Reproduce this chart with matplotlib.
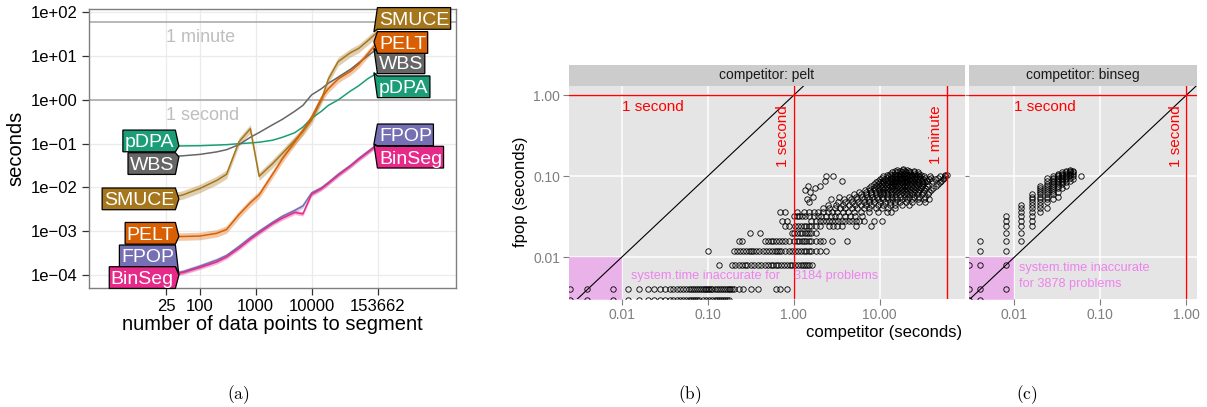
import matplotlib
matplotlib.use("Agg")
import matplotlib.pyplot as plt
from matplotlib.patches import Polygon
from matplotlib.transforms import IdentityTransform
from matplotlib.ticker import FixedLocator, FixedFormatter, NullLocator

plt.rcParams['font.family'] = ['Liberation Sans', 'DejaVu Sans']
plt.rcParams['savefig.dpi'] = 100

W, H = 1207, 407

# ---------------- (a) seconds vs. number of data points ----------------
n_points = [25, 50, 100, 200, 300, 500, 800, 1150, 2000, 3000, 5000, 7000,
            10000, 15000, 20000, 30000, 50000, 70000, 100000, 153662]
pdpa_sec = [0.088, 0.089, 0.09, 0.093, 0.095, 0.1, 0.104, 0.108, 0.12, 0.14,
            0.178, 0.24, 0.38, 0.55, 0.75, 1.0, 1.6, 2.1, 3.0, 4.2]
wbs_sec = [0.05, 0.053, 0.057, 0.065, 0.073, 0.095, 0.14, 0.18, 0.27, 0.36,
           0.55, 0.75, 1.3, 1.8, 2.4, 3.3, 5.0, 7.0, 10, 15]
smuce_sec = [0.0055, 0.0068, 0.0095, 0.0145, 0.02, 0.11, 0.22, 0.018, 0.035, 0.06,
             0.12, 0.19, 0.35, 1.0, 3.0, 7.5, 12, 15, 22, 36]
pelt_sec = [0.00076, 0.00076, 0.00078, 0.0009, 0.0011, 0.0024, 0.0045, 0.0068, 0.02, 0.045,
            0.11, 0.2, 0.4, 1.1, 1.8, 3.0, 4.5, 6.5, 11, 21]
fpop_sec = [0.0001, 0.00012, 0.00016, 0.00022, 0.00028, 0.00045, 0.00072, 0.001, 0.0016, 0.0022,
            0.003, 0.0038, 0.0075, 0.0098, 0.013, 0.02, 0.032, 0.046, 0.065, 0.098]
binseg_sec = [0.0001, 0.000115, 0.00015, 0.0002, 0.00026, 0.00041, 0.00066, 0.00092, 0.0015, 0.002,
              0.0027, 0.0025, 0.007, 0.0094, 0.0125, 0.019, 0.031, 0.044, 0.062, 0.096]

algo_names = ["pDPA", "WBS", "SMUCE", "PELT", "FPOP", "BinSeg"]
algo_secs = [pdpa_sec, wbs_sec, smuce_sec, pelt_sec, fpop_sec, binseg_sec]
algo_colors = ["#1B9E77", "#666666", "#A6761D", "#D95F02", "#7570B3", "#E7298A"]
band_factor = [1.0, 1.0, 1.25, 1.22, 1.12, 1.12]
# vertical shift of each label body from its pointer (pixels, up positive)
left_shift = [5.2, -6.7, 0.0, 3.2, 19.2, -2.5]
right_shift = [-14.2, -14.4, 13.3, -0.5, 9.2, -12.7]

size_ticks = [25, 100, 1000, 10000, 153662]
sec_ticks = [1e-4, 1e-3, 1e-2, 1e-1, 1e0, 1e1, 1e2]
sec_labels = ["1e\u221204", "1e\u221203", "1e\u221202", "1e\u221201", "1e+00", "1e+01", "1e+02"]

# ---------------- (b), (c) fpop vs competitor ----------------
# pelt: rows of competitor times for each fpop time
pelt_fpop = [0.003, 0.004, 0.008, 0.012, 0.016, 0.02, 0.024, 0.028, 0.032, 0.036,
             0.04, 0.044, 0.048, 0.052, 0.056, 0.06, 0.064, 0.068, 0.072, 0.076,
             0.08, 0.084, 0.088, 0.092, 0.096, 0.1, 0.104, 0.108, 0.112, 0.116,
             0.12, 0.124]
pelt_comp = [
    [0.0025, 0.004, 0.008, 0.012, 0.016, 0.02, 0.024, 0.028, 0.032, 0.036, 0.04, 0.044,
     0.048, 0.052, 0.056, 0.06, 0.064, 0.068, 0.072, 0.076, 0.08, 0.088, 0.096, 0.104,
     0.112, 0.12, 0.128, 0.136, 0.144, 0.152, 0.16, 0.168, 0.176],
    [0.0025, 0.004, 0.008, 0.012, 0.016, 0.02, 0.024, 0.028, 0.032, 0.036, 0.04, 0.044,
     0.048, 0.052, 0.056, 0.06, 0.064, 0.068, 0.072, 0.076, 0.08, 0.084, 0.088, 0.092,
     0.096, 0.1, 0.104, 0.108, 0.112, 0.12, 0.128, 0.136, 0.144, 0.152, 0.16, 0.168,
     0.176, 0.184, 0.192, 0.2, 0.23, 0.26, 0.32, 0.38, 0.62, 0.7, 0.84],
    [0.135, 0.19, 0.21, 0.23, 0.25, 0.27, 0.29, 0.32, 0.35, 0.38, 0.42, 0.46, 0.5, 0.54,
     0.58, 0.62, 0.66, 0.72, 0.78, 0.84, 0.9, 0.96, 1.04, 1.12, 1.2, 1.28, 1.36, 1.44,
     1.52, 1.62],
    [0.1, 0.2, 0.22, 0.24, 0.26, 0.28, 0.3, 0.32, 0.34, 0.36, 0.4, 0.44, 0.48, 0.52, 0.56,
     0.6, 0.64, 0.68, 0.72, 0.8, 0.88, 0.96, 1.04, 1.12, 1.2, 1.3, 1.4, 1.5, 1.6, 1.8,
     2.0, 2.4],
    [0.23, 0.25, 0.46, 0.5, 0.54, 0.58, 0.62, 0.68, 0.74, 0.8, 0.88, 1.0, 1.08, 1.16,
     1.24, 1.32, 1.4, 1.5, 1.6, 1.8, 2.0, 2.2, 2.8, 4.2],
    [0.31, 0.41, 0.95, 1.02, 1.1, 1.18, 1.26, 1.34, 1.42, 1.5, 1.6, 1.8],
    [0.8, 0.88, 1.04, 1.12, 1.2, 1.3, 1.4, 1.5, 1.6, 1.8, 2.0, 2.6, 2.9, 3.2, 3.6, 5.3, 8.0],
    [0.73, 0.83, 1.6, 1.8, 2.0, 2.2, 2.4, 2.6, 2.8, 3.0, 3.3, 3.6, 4.0, 4.4, 4.8, 5.3,
     5.8, 6.5, 8.5, 10.5],
    [1.0, 1.08, 1.16, 1.25, 1.35, 1.5, 1.7, 1.9, 2.1, 2.4, 2.7, 3.0, 3.4, 3.9, 4.5, 5.2, 6.2],
    [0.69, 0.79, 1.1, 1.3, 1.5, 1.7, 1.9, 2.2, 2.5, 2.8, 3.2, 3.7, 4.3, 5.0, 6.0, 7.5,
     9.5, 12, 13.5],
    [2.2, 2.6, 3.0, 3.5, 4.0, 4.7, 5.5, 6.5, 7.5, 9.0, 10.5, 12.5, 15],
    [2.5, 3.1, 3.7, 4.4, 5.1, 6.0, 7.0, 8.0, 9.5, 11, 13, 15, 18, 22],
    [1.5, 3.3, 4.0, 4.8, 5.6, 6.5, 7.5, 8.5, 10, 11.5, 13, 15, 17, 20, 24, 29, 34],
    [1.41, 2.75, 3.8, 4.6, 5.5, 6.5, 7.5, 8.5, 9.5, 11, 12.5, 14, 16, 18, 21, 24, 28, 33, 37],
    [1.69, 3.4, 4.4, 5.3, 6.2, 7.2, 8.2, 9.2, 10.5, 12, 13.5, 15, 17, 19.5, 22, 25, 29, 34],
    [5.0, 6.0, 7.0, 8.0, 9.0, 10, 11, 12.5, 14, 15.5, 17, 19, 21, 24, 27, 31, 36],
    [1.55, 5.8, 7.0, 8.0, 9.0, 10, 11, 12, 13.5, 15, 16.5, 18, 20, 22.5, 25, 28, 32, 37],
    [1.35, 6.8, 7.8, 8.8, 9.8, 11, 12, 13, 14.5, 16, 17.5, 19, 21, 23, 26, 29, 33, 40],
    [1.78, 7.5, 8.5, 9.5, 10.5, 11.5, 12.5, 14, 15.5, 17, 18.5, 20, 22, 24.5, 27, 30, 34, 42],
    [1.48, 2.02, 8, 9, 10, 11, 12, 13, 14, 15, 16.5, 18, 19.5, 21, 23, 25.5, 28, 31, 35, 45],
    [8.5, 9.5, 10.5, 11.5, 12.5, 13.5, 14.5, 15.5, 17, 18.5, 20, 22, 24, 26.5, 29, 32, 36, 48],
    [9, 10, 11, 12, 13, 14, 15, 16, 17.5, 19, 21, 23, 25, 28, 31, 34, 50],
    [2.29, 3.6, 9.5, 11, 12.5, 13.5, 14.5, 15.5, 16.5, 18, 19.5, 21, 23, 25, 28, 31, 35, 41, 52],
    [10, 11.5, 13, 14, 15, 16, 17, 18.5, 20, 22, 24, 26, 29, 32, 37, 44, 54],
    [10.5, 12, 13.5, 15, 16, 17, 18, 19.5, 21, 23, 25, 27.5, 30, 34, 40, 47, 56],
    [2.4, 2.9, 11, 12.5, 14, 15.5, 17, 18.5, 20, 22, 24, 26.5, 29, 33, 38, 50, 58],
    [12, 13.5, 15, 16.5, 18, 20, 22, 24, 27, 30, 57, 60],
    [13, 15, 17, 19, 21, 23, 26, 29],
    [14, 16, 18, 20, 22.5, 25, 28],
    [15, 17, 19.5, 22, 25],
    [16, 18.5, 21],
    [18.5],
]

# binseg: columns of fpop times for each binseg time
binseg_comp = [0.003, 0.004, 0.008, 0.012, 0.016, 0.02, 0.024, 0.028, 0.032, 0.036,
               0.04, 0.044, 0.048, 0.06]
binseg_fpop = [
    [0.008, 0.004, 0.003],
    [0.016, 0.012, 0.008, 0.004, 0.003],
    [0.032, 0.028, 0.024, 0.02, 0.016, 0.012, 0.008, 0.004],
    [0.044, 0.04, 0.036, 0.032, 0.028, 0.024, 0.02, 0.016],
    [0.06, 0.056, 0.052, 0.048, 0.044, 0.04, 0.036, 0.032, 0.028, 0.024],
    [0.076, 0.072, 0.068, 0.064, 0.06, 0.056, 0.052, 0.048, 0.044, 0.04, 0.036],
    [0.096, 0.088, 0.08, 0.076, 0.072, 0.068, 0.064, 0.06, 0.056, 0.052, 0.048, 0.04],
    [0.1, 0.096, 0.092, 0.088, 0.084, 0.08, 0.076, 0.072, 0.068, 0.064, 0.06, 0.052],
    [0.108, 0.104, 0.1, 0.096, 0.092, 0.088, 0.084, 0.08, 0.076, 0.072, 0.064, 0.056],
    [0.112, 0.108, 0.104, 0.1, 0.096, 0.092, 0.088, 0.084, 0.08, 0.072],
    [0.116, 0.112, 0.108, 0.104, 0.1, 0.096, 0.092, 0.084, 0.076],
    [0.12, 0.116, 0.112, 0.108, 0.104, 0.096, 0.088],
    [0.116, 0.112, 0.108, 0.1, 0.092],
    [0.1],
]

pelt_ticks = [0.01, 0.1, 1, 10]
pelt_tick_labels = ["0.01", "0.10", "1.00", "10.00"]
binseg_ticks = [0.01, 0.1, 1]
binseg_tick_labels = ["0.01", "0.10", "1.00"]
fpop_ticks = [0.01, 0.1, 1]
fpop_tick_labels = ["0.01", "0.10", "1.00"]


def px_box(left, top, right, bottom):
    return [left / W, 1 - bottom / H, (right - left) / W, (bottom - top) / H]


fig = plt.figure(figsize=(W / 100, H / 100), dpi=100)
fig.patch.set_facecolor("white")

# ======================= panel (a) =======================
ax = fig.add_axes(px_box(89, 9, 456, 288))
ax.set_xscale("log")
ax.set_yscale("log")
ax.set_xlim(1.03, 3.87e6)
ax.set_ylim(5.07e-5, 119)
ax.xaxis.set_major_locator(FixedLocator(size_ticks))
ax.xaxis.set_major_formatter(FixedFormatter([str(v) for v in size_ticks]))
ax.xaxis.set_minor_locator(NullLocator())
ax.yaxis.set_major_locator(FixedLocator(sec_ticks))
ax.yaxis.set_major_formatter(FixedFormatter(sec_labels))
ax.yaxis.set_minor_locator(NullLocator())
ax.grid(True, color="#EBEBEB", lw=0.9)
ax.set_axisbelow(True)
for s in ax.spines.values():
    s.set_color("#7F7F7F")
    s.set_linewidth(1.0)
ax.tick_params(length=5, width=0.9, color="#333333", labelsize=12, pad=3)

for yref, txt in [(60, "1 minute"), (1, "1 second")]:
    ax.axhline(yref, color="#ABABAB", lw=1.2, zorder=1)
    ax.annotate(txt, xy=(25, yref), xytext=(0, -5), textcoords="offset points",
                ha="left", va="top", fontsize=13, color="#BEBEBE")

for secs, col, bf in zip(algo_secs, algo_colors, band_factor):
    if bf > 1:
        ax.fill_between(n_points, [v / bf for v in secs], [v * bf for v in secs],
                        color=col, alpha=0.35, lw=0, zorder=2)
    ax.plot(n_points, secs, color=col, lw=1.1, zorder=3)

ax.set_xlabel("number of data points to segment", fontsize=14.5, labelpad=1)
ax.set_ylabel("seconds", fontsize=14.5, labelpad=4)

fig.canvas.draw()
renderer = fig.canvas.get_renderer()


def tag(ax, x, y, label, color, side, shift):
    # polygon label with its point on (x, y), body moved up by shift px
    tx, ty = ax.transData.transform((x, y))
    t = ax.text(0, 0, label, color="white", fontsize=14, ha="center",
                va="baseline", transform=IdentityTransform(), zorder=7,
                clip_on=False)
    w = t.get_window_extent(renderer).width + 3
    h = 21.7
    cy = ty + shift
    if side == "left":
        xr = tx - 3.5
        xl = xr - w
        verts = [(xl, cy - h / 2), (xl, cy + h / 2), (xr, cy + h / 2),
                 (tx, ty), (xr, cy - h / 2)]
    else:
        xl = tx + 3.5
        xr = xl + w
        verts = [(xr, cy - h / 2), (xr, cy + h / 2), (xl, cy + h / 2),
                 (tx, ty), (xl, cy - h / 2)]
    ax.add_patch(Polygon(verts, closed=True, fc=color, ec="black", lw=0.9,
                         transform=IdentityTransform(), zorder=6, clip_on=False))
    t.set_position(((xl + xr) / 2, cy - h / 2 + 4.5))


for name, secs, col, ls, rs in zip(algo_names, algo_secs, algo_colors,
                                   left_shift, right_shift):
    tag(ax, 42, secs[0], name, col, "left", ls)
    tag(ax, 131000, secs[-1], name, col, "right", rs)

# ======================= panels (b) and (c) =======================
panel_specs = [
    (px_box(569, 86, 965, 299), px_box(569, 65, 965, 86), (0.00244, 98.1),
     "competitor: pelt", pelt_ticks, pelt_tick_labels),
    (px_box(969.3, 86, 1197, 299), px_box(969.3, 65, 1197, 86), (0.0030, 1.33),
     "competitor: binseg", binseg_ticks, binseg_tick_labels),
]
facet_axes = []
for i, (box, sbox, xl, strip_txt, xt, xtl) in enumerate(panel_specs):
    fx = fig.add_axes(box)
    fx.set_facecolor("#E5E5E5")
    fx.set_xscale("log")
    fx.set_yscale("log")
    fx.set_xlim(*xl)
    fx.set_ylim(0.00305, 1.30)
    fx.xaxis.set_major_locator(FixedLocator(xt))
    fx.xaxis.set_major_formatter(FixedFormatter(xtl))
    fx.xaxis.set_minor_locator(NullLocator())
    fx.yaxis.set_major_locator(FixedLocator(fpop_ticks))
    fx.yaxis.set_major_formatter(FixedFormatter(fpop_tick_labels if i == 0 else ["", "", ""]))
    fx.yaxis.set_minor_locator(NullLocator())
    fx.grid(True, color="white", lw=1.1)
    fx.set_axisbelow(True)
    for s in fx.spines.values():
        s.set_visible(False)
    fx.tick_params(length=4, width=0.8, color="#7F7F7F", labelcolor="#7F7F7F",
                   labelsize=10, pad=2.5)
    if i == 1:
        fx.tick_params(axis="y", length=3)

    st = fig.add_axes(sbox)
    st.set_facecolor("#CCCCCC")
    st.set_xticks([])
    st.set_yticks([])
    for s in st.spines.values():
        s.set_visible(False)
    st.text(0.5, 0.5, strip_txt, ha="center", va="center", fontsize=10, color="#1A1A1A")

    # region where system.time cannot resolve the timing
    fx.fill_between([xl[0], 0.01], 0.001, 0.01, color="violet", alpha=0.5, lw=0, zorder=1)
    fx.axline((0.01, 0.01), (1, 1), color="black", lw=0.8, zorder=2)
    fx.axhline(1, color="red", lw=1.0, zorder=4)
    fx.axvline(1, color="red", lw=1.0, zorder=4)
    fx.annotate("1 second", xy=(0.01, 1), xytext=(0, -3.5), textcoords="offset points",
                ha="left", va="top", fontsize=11, color="red")
    fx.annotate("1 second", xy=(1, 1), xytext=(-2.5, -7), textcoords="offset points",
                ha="right", va="top", rotation=90, fontsize=11, color="red")
    facet_axes.append(fx)

ax_b, ax_c = facet_axes
ax_b.axvline(60, color="red", lw=1.0, zorder=4)
ax_b.annotate("1 minute", xy=(60, 1), xytext=(-2.5, -7.5), textcoords="offset points",
              ha="right", va="top", rotation=90, fontsize=11, color="red")

for yv, xs in zip(pelt_fpop, pelt_comp):
    ax_b.plot(xs, [yv] * len(xs), "o", mfc="none", mec="black", ms=3.9, mew=0.6, zorder=3)
for xv, ys in zip(binseg_comp, binseg_fpop):
    ax_c.plot([xv] * len(ys), ys, "o", mfc="none", mec="black", ms=3.9, mew=0.6, zorder=3)

ax_b.annotate("system.time inaccurate for    3184 problems", xy=(0.01, 0.0059),
              xytext=(7, 0), textcoords="offset points", ha="left", va="center",
              fontsize=9.2, color="violet", zorder=5)
ax_c.annotate("system.time inaccurate\nfor 3878 problems", xy=(0.01, 0.0059),
              xytext=(3.5, 0), textcoords="offset points", ha="left", va="center",
              fontsize=9.2, color="violet", linespacing=1.45, zorder=5)

fig.text(521 / W, 1 - 192 / H, "fpop (seconds)", rotation=90, ha="center", va="center",
         fontsize=12)
fig.text(962 / W, 1 - 332 / H, "competitor (seconds)", ha="right", va="center",
         fontsize=12)

for xpos, lab in [(238, "(a)"), (690, "(b)"), (1027, "(c)")]:
    fig.text(xpos / W, 1 - 395 / H, r"$\mathrm{" + lab + "}$", ha="center", va="center",
             fontsize=12.5, math_fontfamily="cm")

fig.savefig("out.png", dpi=100, facecolor="white")
